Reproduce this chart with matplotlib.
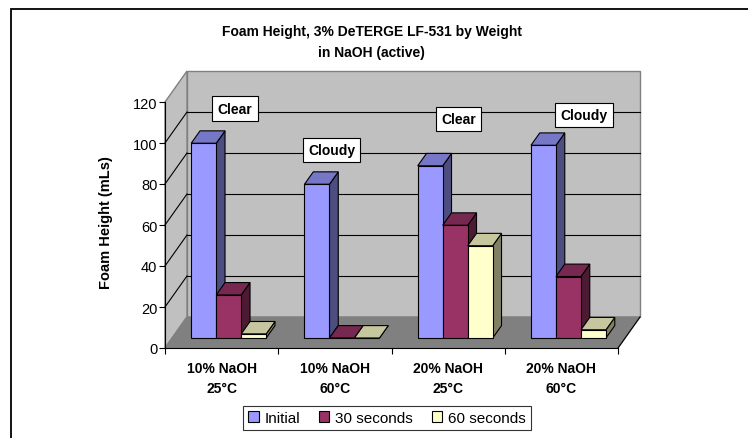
import matplotlib
matplotlib.use("Agg")
import matplotlib.pyplot as plt
from matplotlib.patches import Polygon, Rectangle, Patch
import numpy as np

plt.rcParams['font.family'] = ['Liberation Sans', 'DejaVu Sans']

# ---- data ----
categories = ["10% NaOH\n25°C", "10% NaOH\n60°C", "20% NaOH\n25°C", "20% NaOH\n60°C"]
series_names = ["Initial", "30 seconds", "60 seconds"]
initial = [95, 75, 84, 94]
sec30 = [21, 0, 55, 30]
sec60 = [2, 0, 45, 4]
notes = ["Clear", "Cloudy", "Clear", "Cloudy"]
note_pos = [(0.618, 116.8), (1.470, 96.6), (2.592, 111.7), (3.700, 113.7)]
yticks = [0, 20, 40, 60, 80, 100, 120]

front_colors = ["#9999FF", "#993366", "#FFFFCC"]

def shade(hexc, f):
    c = np.array(matplotlib.colors.to_rgb(hexc))
    return tuple(c * f)

W, H = 748, 439
fig = plt.figure(figsize=(W / 100, H / 100), dpi=100)

# axes = front plane of the 3D box (pixels: x 165..618, y 349..103)
ax = fig.add_axes([165 / W, (H - 349) / H, 453 / W, 246 / H])
ax.set_xlim(0, 4)
ax.set_ylim(0, 120)
ax.patch.set_visible(False)

# depth vector (full box) in data units
DX = 22 / 113.25
DY = 31 / 2.05
YMAX = 120

wall = "#C0C0C0"
edge_grey = "#808080"
# back wall
ax.add_patch(Polygon([(DX, DY), (4 + DX, DY), (4 + DX, YMAX + DY), (DX, YMAX + DY)],
                     closed=True, fc=wall, ec=edge_grey, lw=1.0, clip_on=False, zorder=0))
# left wall
ax.add_patch(Polygon([(0, 0), (0, YMAX), (DX, YMAX + DY), (DX, DY)],
                     closed=True, fc=wall, ec=edge_grey, lw=1.0, clip_on=False, zorder=0))
# floor
ax.add_patch(Polygon([(0, 0), (4, 0), (4 + DX, DY), (DX, DY)],
                     closed=True, fc="#808080", ec=edge_grey, lw=1.0, clip_on=False, zorder=0.5))
ax.plot([4, 4 + DX], [0, DY], color="black", lw=0.8, clip_on=False, zorder=0.6)

# gridlines
for v in yticks[1:-1]:
    ax.plot([DX, 4 + DX], [v + DY, v + DY], color="black", lw=0.8, clip_on=False, zorder=0.3)
    ax.plot([0, DX], [v, v + DY], color="black", lw=0.8, clip_on=False, zorder=0.3)

# bars
w = 25 / 113.25
t0 = 10 / 31.0
bd = 0.4
series = [initial, sec30, sec60]
z = 2
for i in range(len(categories)):
    for j, vals in enumerate(series):
        v = vals[i]
        x0 = i + 0.5 - 1.5 * w + j * w + t0 * DX
        y0 = t0 * DY
        fc = front_colors[j]
        ox, oy = bd * DX, bd * DY
        side = Polygon([(x0 + w, y0), (x0 + w, y0 + v), (x0 + w + ox, y0 + v + oy), (x0 + w + ox, y0 + oy)],
                       closed=True, fc=shade(fc, 0.5), ec="black", lw=0.8, clip_on=False, zorder=z)
        top = Polygon([(x0, y0 + v), (x0 + w, y0 + v), (x0 + w + ox, y0 + v + oy), (x0 + ox, y0 + v + oy)],
                      closed=True, fc=shade(fc, 0.78), ec="black", lw=0.8, clip_on=False, zorder=z)
        ax.add_patch(side)
        ax.add_patch(top)
        ax.bar(x0, v, width=w, bottom=y0, align="edge", color=fc, edgecolor="black",
               linewidth=0.8, clip_on=False, zorder=z + 0.1)
        z += 0.2

# notes
for (nx, ny), txt in zip(note_pos, notes):
    ax.text(nx, ny, txt, ha="center", va="center", fontsize=10, fontweight="bold",
            bbox=dict(boxstyle="square,pad=0.38", fc="white", ec="black", lw=0.8),
            zorder=20, clip_on=False)

# axes styling
for s in ["top", "right"]:
    ax.spines[s].set_visible(False)
ax.spines["left"].set_linewidth(0.8)
ax.spines["bottom"].set_linewidth(0.8)
ax.spines["left"].set_zorder(1)
ax.spines["bottom"].set_zorder(1)
ax.set_yticks(yticks)
ax.set_yticklabels([str(t) for t in yticks], fontsize=10.5)
ax.tick_params(axis="y", length=4, width=0.8, pad=1.5)
ax.set_xticks([0, 1, 2, 3, 4])
ax.set_xticklabels([])
ax.tick_params(axis="x", which="major", length=4, width=0.8, direction="out")
ax.set_xticks([0.5, 1.5, 2.5, 3.5], minor=True)
ax.set_xticklabels(categories, minor=True, fontsize=10, fontweight="bold", linespacing=1.55)
ax.tick_params(axis="x", which="minor", length=0, pad=9.5)

ax.set_ylabel("Foam Height (mLs)", fontsize=10.5, fontweight="bold")
ax.yaxis.set_label_coords(-0.1148, 0.512)

# title
fig.text(371.7 / W, 1 - 42.7 / H, "Foam Height, 3% DeTERGE LF-531 by Weight\nin NaOH (active)",
         ha="center", va="center", fontsize=10, fontweight="bold", linespacing=1.6)

# legend
handles = [Patch(fc=c, ec="black", lw=0.8) for c in front_colors]
leg = fig.legend(handles, series_names, loc="center", bbox_to_anchor=(387 / W, 1 - 419 / H),
                 ncol=3, fontsize=11, frameon=True, fancybox=False, edgecolor="black",
                 handlelength=0.7, handleheight=0.7, handletextpad=0.4, columnspacing=1.2,
                 borderpad=0.35, borderaxespad=0)
leg.get_frame().set_linewidth(0.8)

# outer frame
fig.patches.append(Rectangle((11 / W, -0.1), 1.1, (1 - 10 / H) + 0.1, transform=fig.transFigure,
                             fill=False, ec="black", lw=1.3, clip_on=False))

fig.savefig("out.png", dpi=100)
